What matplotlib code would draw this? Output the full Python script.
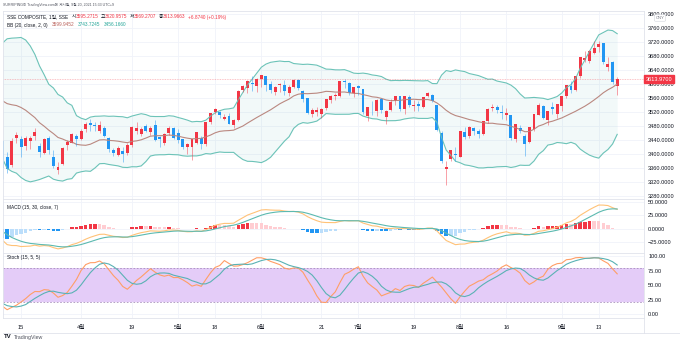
import numpy as np
import pandas as pd
import matplotlib
matplotlib.use("Agg")
import matplotlib.pyplot as plt
from matplotlib.lines import Line2D

plt.rcParams['font.family'] = ['Liberation Sans', 'Noto Sans CJK KR']

# bars before the visible window (Jan 4 - Mar 8 2021), only feed the indicators
warm_close = [3502.96, 3528.68, 3550.88, 3576.20, 3570.11, 3531.50, 3608.34, 3598.65, 3565.90, 3566.38,
              3596.22, 3566.26, 3583.09, 3621.26, 3606.75, 3624.24, 3569.43, 3573.34, 3505.18, 3483.07,
              3533.68, 3560.00, 3517.31, 3501.86, 3496.33, 3532.44, 3603.49, 3655.09, 3675.36, 3696.17,
              3642.44, 3636.36, 3564.08, 3585.05, 3509.08, 3551.40, 3508.59, 3576.90, 3503.49, 3501.99,
              3421.41]
warm_high = [3511, 3528, 3551, 3576, 3600, 3597, 3608, 3619, 3600, 3580, 3596, 3600, 3586, 3621, 3626,
             3625, 3618, 3587, 3548, 3535, 3537, 3570, 3560, 3527, 3515, 3533, 3604, 3656, 3731, 3697,
             3716, 3644, 3647, 3604, 3545, 3551, 3569, 3577, 3555, 3509, 3527]
warm_low = [3457, 3485, 3514, 3543, 3545, 3523, 3526, 3583, 3561, 3541, 3545, 3560, 3560, 3588, 3591,
            3599, 3568, 3552, 3505, 3464, 3473, 3525, 3510, 3495, 3486, 3490, 3535, 3602, 3650, 3650,
            3640, 3576, 3557, 3571, 3496, 3514, 3500, 3510, 3489, 3465, 3418]

# daily candles Mar 9 - Sep 17 2021
opens = [3437, 3392, 3369, 3446, 3443, 3424, 3436, 3450, 3424, 3403, 3446, 3392, 3355, 3370, 3427, 3432, 3452,
         3443, 3471, 3488, 3484, 3466, 3475, 3447, 3412, 3396, 3408, 3403, 3427, 3466, 3457, 3480, 3462,
         3484, 3449, 3432, 3460, 3474,
         3460, 3442, 3419, 3419, 3431, 3446, 3428, 3490, 3519, 3520, 3500, 3508, 3482, 3497, 3583, 3589,
         3603, 3594,
         3613, 3622, 3600, 3578, 3597, 3597, 3575, 3592, 3612, 3581, 3559, 3514, 3521, 3513, 3532, 3555,
         3566, 3566, 3607, 3603, 3574,
         3593, 3585, 3509, 3531, 3523, 3556, 3506, 3527, 3551, 3565, 3528, 3562, 3536, 3544, 3533, 3566,
         3570, 3540, 3461, 3356, 3387, 3401,
         3392, 3462, 3452, 3473, 3467, 3458, 3495, 3531, 3534, 3519, 3512, 3510, 3443, 3475, 3452, 3433,
         3470, 3511, 3537, 3496, 3533, 3514,
         3537, 3567, 3593, 3583, 3622, 3668, 3665, 3689, 3705, 3716, 3648, 3664, 3595.27]
highs = [3439, 3405, 3446, 3462, 3451, 3450, 3452, 3474, 3430, 3446, 3451, 3412, 3376, 3420, 3441, 3460, 3456,
         3470, 3490, 3499, 3491, 3494, 3479, 3448, 3418, 3424, 3419, 3431, 3479, 3491, 3476, 3487, 3481,
         3497, 3452, 3460, 3481, 3478,
         3470, 3443, 3432, 3442, 3463, 3452, 3491, 3518, 3532, 3523, 3514, 3518, 3499, 3582, 3598, 3611,
         3622, 3616,
         3626, 3622, 3608, 3593, 3602, 3611, 3598, 3613, 3614, 3582, 3560, 3530, 3534, 3531, 3558, 3570,
         3573, 3610, 3614, 3605, 3592,
         3597, 3587, 3535, 3552, 3557, 3559, 3527, 3557, 3567, 3566, 3565, 3569, 3555, 3552, 3562, 3578,
         3572, 3541, 3466, 3380, 3411, 3419,
         3464, 3478, 3481, 3478, 3470, 3495, 3530, 3543, 3541, 3540, 3530, 3510, 3486, 3484, 3456, 3478,
         3515, 3547, 3541, 3523, 3548, 3544,
         3567, 3597, 3608, 3622, 3677, 3694, 3696, 3722, 3723, 3716, 3676, 3667, 3620.96]
lows = [3329, 3347, 3364, 3431, 3391, 3411, 3414, 3440, 3390, 3400, 3399, 3360, 3342, 3368, 3412, 3430, 3423,
        3441, 3464, 3467, 3467, 3461, 3448, 3405, 3394, 3394, 3377, 3397, 3420, 3458, 3452, 3462, 3454,
        3436, 3421, 3426, 3455, 3444,
        3431, 3413, 3401, 3384, 3428, 3413, 3424, 3487, 3513, 3504, 3496, 3485, 3474, 3495, 3577, 3575,
        3581, 3578,
        3592, 3581, 3574, 3570, 3578, 3569, 3566, 3589, 3583, 3550, 3515, 3507, 3508, 3503, 3525, 3547,
        3555, 3562, 3588, 3570, 3564,
        3568, 3514, 3493, 3512, 3508, 3517, 3485, 3524, 3540, 3524, 3515, 3535, 3522, 3524, 3532, 3562,
        3549, 3466, 3374, 3312, 3380, 3381,
        3390, 3443, 3446, 3455, 3446, 3454, 3488, 3522, 3516, 3500, 3496, 3439, 3434, 3460, 3395, 3430,
        3466, 3511, 3501, 3483, 3515, 3503,
        3523, 3561, 3573, 3580, 3617, 3662, 3660, 3687, 3692, 3657, 3636, 3599, 3569.27]
closes = [3359.3, 3357.7, 3436.8, 3453.1, 3420.0, 3446.7, 3445.6, 3463.1, 3404.7, 3443.4, 3411.5, 3367.1,
          3363.6, 3418.3, 3435.3, 3456.7, 3441.9,
          3466.3, 3484.4, 3482.5, 3479.6, 3482.6, 3450.7, 3413.0, 3403.6, 3417.0, 3399.0, 3426.6, 3477.1,
          3472.9, 3472.3, 3465.1, 3474.2, 3441.2, 3442.6, 3457.1, 3474.9, 3446.9,
          3441.3, 3418.9, 3428.0, 3441.9, 3462.8, 3429.5, 3490.4, 3517.6, 3529.0, 3511.0, 3506.9, 3486.6,
          3497.3, 3581.3, 3593.4, 3608.9, 3600.8, 3615.5,
          3624.7, 3597.1, 3584.2, 3591.8, 3599.5, 3580.1, 3591.4, 3610.9, 3589.8, 3556.6, 3518.3, 3525.1,
          3525.1, 3529.2, 3557.4, 3566.7, 3566.2, 3607.6, 3606.4, 3573.2, 3591.2,
          3588.8, 3518.8, 3534.3, 3530.3, 3553.7, 3525.5, 3524.1, 3547.8, 3566.2, 3528.5, 3564.6, 3539.3,
          3539.1, 3536.8, 3562.3, 3574.7, 3550.4, 3467.4, 3381.2, 3361.6, 3411.7, 3397.4,
          3464.3, 3448.0, 3477.2, 3466.6, 3458.2, 3494.6, 3529.9, 3532.6, 3524.7, 3516.3, 3517.3, 3447.0,
          3485.3, 3465.6, 3427.3, 3477.1, 3514.5, 3540.4, 3501.7, 3522.2, 3528.2, 3543.9,
          3567.1, 3597.0, 3581.7, 3621.9, 3676.6, 3675.2, 3693.1, 3703.1, 3715.4, 3662.6, 3656.2, 3607.1,
          3613.97]

holidays = ['2021-02-11', '2021-02-12', '2021-02-15', '2021-02-16', '2021-02-17',
            '2021-04-05', '2021-05-03', '2021-05-04', '2021-05-05', '2021-06-14']
tick_dates = ['2021-03-15', '2021-04-01', '2021-04-19', '2021-05-06', '2021-05-18', '2021-06-01', '2021-06-21',
              '2021-07-01', '2021-07-19', '2021-08-02', '2021-08-16', '2021-09-01', '2021-09-13']
tick_labels = ['15', '4월', '19', '5월', '18', '6월', '21', '7월', '19', '8월', '16', '9월', '13']

days = pd.bdate_range('2021-01-04', '2021-09-17')
days = days[~days.isin(pd.to_datetime(holidays))]

c = pd.Series(warm_close + closes, dtype=float)
h = pd.Series(warm_high + highs, dtype=float)
l = pd.Series(warm_low + lows, dtype=float)
n = min(len(days), len(c))
days, c, h, l = days[:n], c[:n], h[:n], l[:n]
x = np.arange(n) - list(days).index(pd.Timestamp('2021-03-15'))
vis = slice(len(warm_close), n)

# indicators, same settings as the legend
basis = c.rolling(20).mean()
sd = c.rolling(20).std(ddof=0)
upper, lower = basis + 2 * sd, basis - 2 * sd
macd = c.ewm(span=15, adjust=False).mean() - c.ewm(span=30, adjust=False).mean()
signal = macd.ewm(span=7, adjust=False).mean()
hist = macd - signal
raw = 100 * (c - l.rolling(15).min()) / (h.rolling(15).max() - l.rolling(15).min())
k = raw.rolling(5).mean()
d = k.rolling(5).mean()

RED, BLUE = '#F23645', '#2196F3'
GRID, EDGE, TXT = '#F0F3FA', '#E0E3EB', '#131722'
W, H = 680, 342

fig = plt.figure(figsize=(W / 100, H / 100), dpi=100, facecolor='white')


def pane(top, bottom):
    return fig.add_axes([3 / W, 1 - bottom / H, (644 - 3) / W, (bottom - top) / H])


axm = pane(11, 199)
axd = pane(199, 253)
axs = pane(253, 318)
xlim = (-3.9, 134.8)
tick_x = [x[list(days).index(pd.Timestamp(t))] for t in tick_dates]

for ax in (axm, axd, axs):
    ax.set_xlim(*xlim)
    ax.yaxis.tick_right()
    ax.tick_params(axis='y', length=0, pad=3, labelsize=4.1, labelcolor=TXT)
    ax.tick_params(axis='x', length=0)
    for s in ax.spines.values():
        s.set_color(EDGE)
        s.set_linewidth(0.6)
    for tx in tick_x:
        ax.axvline(tx, color=GRID, lw=0.6, zorder=0)
    ax.set_xticks(tick_x)
    ax.set_xticklabels([])

# main pane: candles + bollinger
xv = x[vis]
o_ = np.array(opens[:len(xv)], dtype=float)
c_ = c[vis].values
up = c_ >= o_
col = np.where(up, RED, BLUE)
axm.fill_between(xv, lower[vis], upper[vis], color='#26A69A', alpha=0.06, lw=0)
axm.plot(xv, upper[vis], color='#6CC3B8', lw=0.8)
axm.plot(xv, lower[vis], color='#6CC3B8', lw=0.8)
axm.plot(xv, basis[vis], color='#BA8880', lw=0.8)
axm.vlines(xv, l[vis], h[vis], colors=col, lw=0.6, alpha=0.55)
body = np.maximum(np.abs(c_ - o_), 2)
axm.bar(xv, body, bottom=np.minimum(o_, c_), width=0.64, color=col, lw=0)
axm.axhline(closes[-1], color=RED, lw=0.6, alpha=0.4, ls=(0, (1, 1)))
axm.set_ylim(3271.4, 3808.6)
pt = np.arange(3280, 3801, 40)
axm.set_yticks(pt)
axm.set_yticklabels([f'{v:.4f}' for v in pt])
for v in pt:
    axm.axhline(v, color=GRID, lw=0.6, zorder=0)
axm.text(1.003, closes[-1], f'{closes[-1]:.4f}', transform=axm.get_yaxis_transform(), fontsize=4.1,
         color='white', va='center', ha='left',
         bbox=dict(boxstyle='square,pad=0.25', fc=RED, ec=RED))

# MACD pane
hv = hist[vis].values
hp = hist.shift(1)[vis].values
hcol = np.where(hv >= 0, np.where(hv > hp, RED, '#FFCDD2'), np.where(hv < hp, BLUE, '#BBDEFB'))
axd.bar(xv, hv, width=0.75, color=hcol, lw=0)
axd.plot(xv, macd[vis], color='#FFC277', lw=0.8)
axd.plot(xv, signal[vis], color='#5CBAB0', lw=0.8)
axd.set_ylim(-46, 56.2)
mt = [-25, 0, 25, 50]
axd.set_yticks(mt)
axd.set_yticklabels([f'{v:.4f}'.replace('-', '\u2212') for v in mt])
for v in mt:
    axd.axhline(v, color=GRID, lw=0.6, zorder=0)

# Stoch pane
axs.axhspan(20, 80, color='#E4CCF8', lw=0, zorder=0.5)
axs.axhline(80, color='#A890BC', lw=0.6, ls=(0, (2, 2)))
axs.axhline(20, color='#A890BC', lw=0.6, ls=(0, (2, 2)))
axs.plot(xv, k[vis], color='#FF9E66', lw=0.8)
axs.plot(xv, d[vis], color='#5AB2B4', lw=0.8)
axs.set_ylim(-6.9, 105.2)
st = [0, 25, 50, 75, 100]
axs.set_yticks(st)
axs.set_yticklabels([f'{v:.2f}' for v in st])
for v in st:
    axs.axhline(v, color=GRID, lw=0.6, zorder=0)
axs.set_xticklabels(tick_labels)
axs.tick_params(axis='x', labelsize=4.1, labelcolor=TXT, pad=5)

fig.add_artist(Line2D([3 / W, 1], [1 - 333 / H] * 2, color=EDGE, lw=0.6))
fig.add_artist(Line2D([644 / W] * 2, [1 - 333 / H, 1 - 318 / H], color=EDGE, lw=0.6))


def chain(px, py, parts, size=3.45):
    t = fig.text(px / W, 1 - py / H, parts[0][0], color=parts[0][1], fontsize=size, va='center')
    for s, cl, gap in parts[1:]:
        t = axm.annotate(s, xy=(1, 0.5), xycoords=t, xytext=(gap, 0), textcoords='offset points',
                         va='center', ha='left', color=cl, fontsize=size, annotation_clip=False)
    return t


GREY = '#50535E'
fig.text(3 / W, 1 - 5 / H, 'SURRIPING이 TradingView.com에 게시됨, 9월 20, 2021 15:33 UTC+9',
         fontsize=2.6, color=GREY, va='center')
chain(7, 17, [('SSE COMPOSITE, 1일, SSE', TXT), ('시', TXT, 2.5), ('3595.2715', RED, 0),
              ('고', TXT, 1.5), ('3620.9575', RED, 0), ('저', TXT, 1.5), ('3569.2707', RED, 0),
              ('종', TXT, 1.5), ('3613.9663', RED, 0), ('+6.8740 (+0.19%)', RED, 1.5)])
chain(7, 25, [('BB (20, close, 2, 0)', TXT), ('3599.9452', '#B9605A', 3), ('3743.7245', '#26A69A', 2.5),
              ('3456.1660', '#26A69A', 2.5)])
chain(7, 207, [('MACD (15, 30, close, 7)', TXT), ('\u22120.7427', BLUE, 3), ('36.5731', '#FF9800', 2.5),
               ('37.3158', '#26A69A', 2.5)])
chain(7, 258, [('Stoch (15, 5, 5)', TXT), ('68.40', '#FF7F3F', 3), ('83.82', '#26A69A', 2.5)])

fig.text(660 / W, 1 - 18 / H, 'CNY', fontsize=3.0, color='#787B86', ha='center', va='center',
         bbox=dict(boxstyle='round,pad=0.3', fc='white', ec='#D1D4DC', lw=0.4))
t = fig.text(4 / W, 1 - 337 / H, 'TV', fontsize=4.4, color=TXT, weight='bold', va='center')
axm.annotate('TradingView', xy=(1, 0.5), xycoords=t, xytext=(1.5, 0), textcoords='offset points',
             va='center', fontsize=3.8, color=GREY, annotation_clip=False)

fig.savefig('out.png', dpi=100, facecolor='white')
